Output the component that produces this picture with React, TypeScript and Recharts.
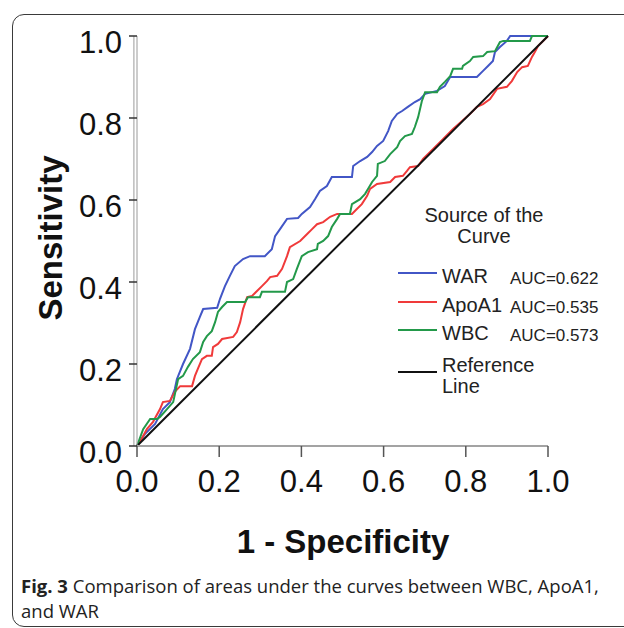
import { LineChart, Line, XAxis, YAxis, ReferenceLine } from 'recharts'

const tickValues = [0, 0.2, 0.4, 0.6, 0.8, 1.0]
const tickLabels = ['0.0', '0.2', '0.4', '0.6', '0.8', '1.0']

const seriesNames = ['WAR', 'ApoA1', 'WBC']
const aucLabels = ['AUC=0.622', 'AUC=0.535', 'AUC=0.573']
const seriesColors = ['#4256c6', '#f03a3a', '#23994a']

// [1 - specificity, sensitivity]
const warCurve: [number, number][] = [
  [0, 0], [0.019, 0.029], [0.044, 0.054], [0.063, 0.09], [0.08, 0.107], [0.092, 0.139],
  [0.097, 0.163], [0.112, 0.2], [0.129, 0.237], [0.141, 0.285], [0.153, 0.315], [0.161, 0.334],
  [0.195, 0.337], [0.202, 0.359], [0.214, 0.39], [0.226, 0.415], [0.238, 0.439], [0.258, 0.456],
  [0.275, 0.463], [0.311, 0.463], [0.328, 0.48], [0.336, 0.512], [0.348, 0.529], [0.365, 0.554],
  [0.392, 0.556], [0.401, 0.566], [0.421, 0.583], [0.433, 0.602], [0.445, 0.622], [0.462, 0.634],
  [0.474, 0.656], [0.523, 0.656], [0.526, 0.683], [0.543, 0.695], [0.56, 0.705], [0.572, 0.717],
  [0.584, 0.732], [0.599, 0.744], [0.611, 0.768], [0.62, 0.793], [0.633, 0.81], [0.645, 0.817],
  [0.659, 0.827], [0.676, 0.839], [0.689, 0.846], [0.701, 0.859], [0.73, 0.866], [0.749, 0.878],
  [0.762, 0.9], [0.827, 0.9], [0.842, 0.915], [0.854, 0.927], [0.866, 0.939], [0.871, 0.961],
  [0.883, 0.973], [0.9, 0.988], [0.908, 1], [1, 1],
]

const apoA1Curve: [number, number][] = [
  [0, 0], [0.007, 0.01], [0.024, 0.041], [0.039, 0.059], [0.056, 0.09], [0.063, 0.107],
  [0.08, 0.11], [0.092, 0.132], [0.105, 0.146], [0.134, 0.146], [0.141, 0.171], [0.148, 0.188],
  [0.158, 0.212], [0.17, 0.22], [0.182, 0.22], [0.185, 0.241], [0.197, 0.249], [0.207, 0.261],
  [0.234, 0.266], [0.243, 0.278], [0.251, 0.302], [0.258, 0.334], [0.268, 0.363], [0.28, 0.366],
  [0.292, 0.378], [0.304, 0.39], [0.316, 0.402], [0.324, 0.412], [0.341, 0.415], [0.353, 0.432],
  [0.365, 0.463], [0.372, 0.485], [0.397, 0.5], [0.414, 0.517], [0.426, 0.529], [0.438, 0.541],
  [0.453, 0.546], [0.47, 0.559], [0.487, 0.566], [0.523, 0.566], [0.535, 0.578], [0.547, 0.59],
  [0.56, 0.61], [0.567, 0.627], [0.584, 0.639], [0.616, 0.644], [0.628, 0.656], [0.647, 0.659],
  [0.657, 0.671], [0.664, 0.68], [0.684, 0.683], [0.696, 0.7], [0.72, 0.724], [0.745, 0.749],
  [0.769, 0.773], [0.791, 0.793], [0.81, 0.81], [0.827, 0.827], [0.842, 0.834], [0.859, 0.846],
  [0.876, 0.871], [0.9, 0.876], [0.912, 0.89], [0.925, 0.912], [0.937, 0.924], [0.951, 0.927],
  [0.961, 0.949], [0.968, 0.961], [0.976, 0.976], [0.988, 0.988], [1, 1],
]

const wbcCurve: [number, number][] = [
  [0, 0], [0.015, 0.041], [0.032, 0.066], [0.049, 0.066], [0.056, 0.071], [0.073, 0.09],
  [0.088, 0.107], [0.1, 0.163], [0.112, 0.171], [0.124, 0.193], [0.136, 0.212], [0.153, 0.229],
  [0.161, 0.254], [0.17, 0.268], [0.182, 0.28], [0.19, 0.302], [0.197, 0.327], [0.207, 0.339],
  [0.219, 0.351], [0.263, 0.351], [0.27, 0.363], [0.299, 0.363], [0.304, 0.376], [0.36, 0.376],
  [0.365, 0.4], [0.38, 0.407], [0.389, 0.432], [0.401, 0.463], [0.416, 0.473], [0.438, 0.48],
  [0.44, 0.493], [0.453, 0.5], [0.465, 0.512], [0.474, 0.534], [0.487, 0.554], [0.494, 0.566],
  [0.518, 0.566], [0.523, 0.59], [0.543, 0.602], [0.555, 0.615], [0.562, 0.627], [0.572, 0.644],
  [0.584, 0.659], [0.586, 0.688], [0.603, 0.695], [0.616, 0.712], [0.633, 0.729], [0.64, 0.744],
  [0.652, 0.756], [0.669, 0.761], [0.676, 0.778], [0.684, 0.802], [0.693, 0.841], [0.701, 0.863],
  [0.73, 0.863], [0.737, 0.876], [0.749, 0.888], [0.762, 0.902], [0.769, 0.92], [0.791, 0.92],
  [0.793, 0.927], [0.81, 0.939], [0.818, 0.949], [0.842, 0.951], [0.852, 0.961], [0.871, 0.963],
  [0.883, 0.985], [0.891, 0.988], [0.956, 0.988], [0.961, 1], [1, 1],
]

const referenceCurve: [number, number][] = [[0, 0], [1, 1]]

const toRows = (pts: [number, number][]) => pts.map(([x, y]) => ({ x, y }))
const curves = [toRows(warCurve), toRows(apoA1Curve), toRows(wbcCurve)]

const FONT = '"Liberation Sans", Arial, Helvetica, sans-serif'

function YTick({ x, y, payload }: any) {
  return (
    <text x={x} y={y + 6} textAnchor="end" dominantBaseline="central" fontSize={31} fontFamily={FONT} fill="#111">
      {tickLabels[tickValues.indexOf(payload.value)]}
    </text>
  )
}

function XTick({ x, y, payload }: any) {
  return (
    <text x={x} y={y + 35} textAnchor="middle" fontSize={31} fontFamily={FONT} fill="#111">
      {tickLabels[tickValues.indexOf(payload.value)]}
    </text>
  )
}

function ChartLegend() {
  const rowY = [78, 107, 135]
  return (
    <svg width={240} height={215} style={{ position: 'absolute', left: 380, top: 195 }}>
      <g fontFamily={FONT} fill="#222">
        <text x={104} y={27} textAnchor="middle" fontSize={20}>Source of the</text>
        <text x={104} y={48} textAnchor="middle" fontSize={20}>Curve</text>
        {seriesNames.map((name, i) => (
          <g key={name}>
            <line x1={18} x2={57} y1={rowY[i]} y2={rowY[i]} stroke={seriesColors[i]} strokeWidth={2} />
            <text x={62} y={rowY[i] + 10} fontSize={20}>{name}</text>
            <text x={130} y={rowY[i] + 11} fontSize={17}>{aucLabels[i]}</text>
          </g>
        ))}
        <line x1={18} x2={57} y1={177} y2={177} stroke="#111" strokeWidth={2} />
        <text x={62} y={177} fontSize={20}>Reference</text>
        <text x={62} y={198} fontSize={20}>Line</text>
      </g>
    </svg>
  )
}

export default function App() {
  return (
    <div style={{ position: 'absolute', left: 0, top: 0, width: 624, height: 628, overflow: 'hidden', background: '#fff' }}>
      <div
        style={{
          position: 'absolute', left: 12, top: 14, width: 640, height: 613,
          border: '1.5px solid #3a3a3a', borderRadius: 12, boxSizing: 'border-box',
        }}
      />
      <div style={{ position: 'absolute', left: 0, top: 0 }}>
        <LineChart width={624} height={628} margin={{ top: 36, right: 76, bottom: 122, left: 0 }}>
          <XAxis
            type="number"
            dataKey="x"
            domain={[0, 1]}
            ticks={tickValues}
            height={60}
            tickSize={11}
            tickMargin={0}
            axisLine={{ stroke: '#a3a3a3', strokeWidth: 2 }}
            tickLine={{ stroke: '#555', strokeWidth: 1.5 }}
            tick={XTick}
            label={() => (
              <text x={343} y={553} textAnchor="middle" fontSize={33} fontWeight="bold" fontFamily={FONT} fill="#111">
                1 - Specificity
              </text>
            )}
          />
          <YAxis
            type="number"
            domain={[0, 1]}
            ticks={tickValues}
            width={137}
            tickSize={8}
            tickMargin={7}
            axisLine={{ stroke: '#9a9a9a', strokeWidth: 1 }}
            tickLine={{ stroke: '#333', strokeWidth: 1.5 }}
            tick={YTick}
            label={() => (
              <text
                x={62}
                y={238}
                transform="rotate(-90 62 238)"
                textAnchor="middle"
                fontSize={33}
                fontWeight="bold"
                fontFamily={FONT}
                fill="#111"
              >
                Sensitivity
              </text>
            )}
          />
          <ReferenceLine x={-0.0075} stroke="#9a9a9a" ifOverflow="visible" />
          {curves.map((rows, i) => (
            <Line
              key={seriesNames[i]}
              data={rows}
              dataKey="y"
              name={seriesNames[i]}
              type="linear"
              stroke={seriesColors[i]}
              strokeWidth={2}
              dot={false}
              isAnimationActive={false}
            />
          ))}
          <Line
            data={toRows(referenceCurve)}
            dataKey="y"
            name="Reference Line"
            type="linear"
            stroke="#111"
            strokeWidth={2}
            dot={false}
            isAnimationActive={false}
          />
        </LineChart>
      </div>
      <ChartLegend />
      <div
        style={{
          position: 'absolute', left: 21, top: 573, width: 610,
          fontFamily: '"Open Sans", sans-serif', fontSize: 18.5, lineHeight: '25px', color: '#222',
          whiteSpace: 'nowrap',
        }}
      >
        <b>Fig. 3</b> Comparison of areas under the curves between WBC, ApoA1,
        <br />
        and WAR
      </div>
    </div>
  )
}
